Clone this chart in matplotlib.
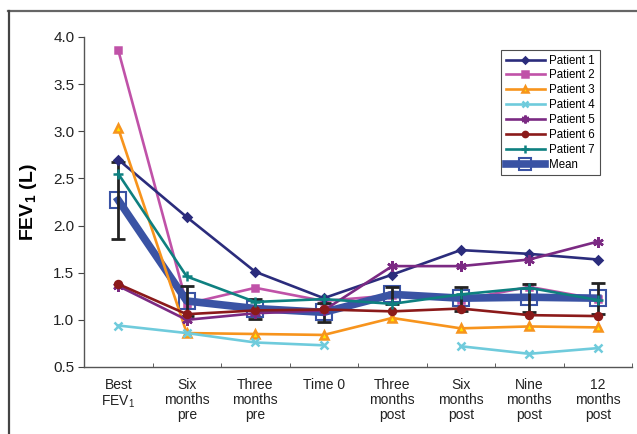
import numpy as np
import matplotlib
matplotlib.use("Agg")
import matplotlib.pyplot as plt
from matplotlib.lines import Line2D

plt.rcParams['font.family'] = ['Liberation Sans', 'DejaVu Sans']
plt.rcParams['mathtext.fontset'] = 'custom'
plt.rcParams['mathtext.rm'] = 'Liberation Sans'
plt.rcParams['mathtext.bf'] = 'Liberation Sans:bold'
plt.rcParams['mathtext.default'] = 'regular'

categories = ['Best\nFEV$_1$', 'Six\nmonths\npre', 'Three\nmonths\npre', 'Time 0',
              'Three\nmonths\npost', 'Six\nmonths\npost', 'Nine\nmonths\npost', '12\nmonths\npost']

patient1 = [2.70, 2.09, 1.51, 1.23, 1.48, 1.74, 1.70, 1.64]
patient2 = [3.86, 1.17, 1.34, 1.20, 1.26, 1.21, 1.35, 1.22]
patient3 = [3.03, 0.86, 0.85, 0.84, 1.02, 0.91, 0.93, 0.92]
patient4 = [0.94, 0.86, 0.76, 0.73, np.nan, 0.72, 0.64, 0.70]
patient5 = [1.36, 1.00, 1.07, 1.10, 1.57, 1.57, 1.64, 1.83]
patient6 = [1.38, 1.06, 1.10, 1.11, 1.09, 1.12, 1.05, 1.04]
patient7 = [2.55, 1.46, 1.19, 1.22, 1.17, 1.27, 1.34, 1.21]
mean_vals = [2.27, 1.20, 1.12, 1.08, 1.27, 1.23, 1.24, 1.23]
err_low = [1.86, 1.04, 1.01, 0.98, 1.17, 1.09, 1.08, 1.06]
err_high = [2.67, 1.36, 1.22, 1.18, 1.35, 1.35, 1.38, 1.39]

fig = plt.figure(figsize=(6.37, 4.34), dpi=100)
ax = fig.add_axes([84/637, (434-367)/434, (632-84)/637, (367-37)/434])

x = np.arange(len(categories))

styles = [
    ('Patient 1', patient1, '#2B2C7C', 'D', 4.0, '#2B2C7C', 3),
    ('Patient 2', patient2, '#C052A8', 's', 5.0, '#C052A8', 2),
    ('Patient 3', patient3, '#F7941D', '^', 5.5, '#FFE600', 3),
    ('Patient 4', patient4, '#6FCBDC', 'x', 6, '#6FCBDC', 3),
    ('Patient 5', patient5, '#7B2A83', (6, 2, 0), 7.5, '#7B2A83', 3),
    ('Patient 6', patient6, '#8B1A1A', 'o', 5.0, '#8B1A1A', 3),
    ('Patient 7', patient7, '#0E8080', '+', 7, '#0E8080', 3),
]

handles = []
for name, vals, col, mk, ms, mfc, z in styles:
    h, = ax.plot(x, vals, color=col, marker=mk, markersize=ms, markerfacecolor=mfc,
                 markeredgecolor=col, markeredgewidth=1.8, linewidth=1.9, label=name, zorder=z)
    handles.append(h)

mean_col = '#3A53A4'
yerr = [np.array(mean_vals) - np.array(err_low), np.array(err_high) - np.array(mean_vals)]
hm, = ax.plot(x, mean_vals, color=mean_col, linewidth=5.5, marker='s', markersize=12,
              markerfacecolor='none', markeredgecolor=mean_col, markeredgewidth=1.5,
              label='Mean', zorder=2.5)
ax.errorbar(x, mean_vals, yerr=yerr, fmt='none', ecolor='#222222', elinewidth=2,
            capsize=5, capthick=2, zorder=2.7)
handles.append(hm)

ax.set_xlim(-0.5, len(categories) - 0.5)
ax.set_ylim(0.5, 4.0)
ax.set_yticks(np.arange(0.5, 4.01, 0.5))
ax.set_yticklabels([f'{v:.1f}' for v in np.arange(0.5, 4.01, 0.5)], fontsize=11, color='#222222')
ax.set_xticks(x)
ax.set_xticklabels(categories, fontsize=10, color='#222222', linespacing=1.1)
ax.set_xticks(np.arange(-0.5, len(categories), 1.0), minor=True)
ax.tick_params(axis='x', which='major', length=0, pad=8)
ax.tick_params(axis='x', which='minor', length=3, direction='in', color='#444444')
ax.tick_params(axis='y', length=4, direction='out', color='#444444', pad=3)

for s in ['top', 'right']:
    ax.spines[s].set_visible(False)
for s in ['left', 'bottom']:
    ax.spines[s].set_color('#555555')
    ax.spines[s].set_linewidth(1.0)

ax.set_ylabel(r'$\mathbf{FEV_1}$' + ' (L)', fontsize=14, fontweight='bold', labelpad=10)

leg = ax.legend(handles=handles, loc='upper left', bbox_to_anchor=((501-84)/548, (367-50)/330),
                fontsize=8.3, frameon=True, fancybox=False, edgecolor='#222222',
                handlelength=3.4, handletextpad=0.4, labelspacing=0.25, borderpad=0.4,
                borderaxespad=0, markerscale=0.75)
leg.get_frame().set_linewidth(0.8)

# outer frame
fig.add_artist(Line2D([8/637, 1.0], [1 - 10.5/434, 1 - 10.5/434], transform=fig.transFigure,
                      color='#666666', linewidth=1.6))
fig.add_artist(Line2D([8.5/637, 8.5/637], [0, 1 - 10.5/434], transform=fig.transFigure,
                      color='#444444', linewidth=1.6))

fig.savefig('out.png', dpi=100)
